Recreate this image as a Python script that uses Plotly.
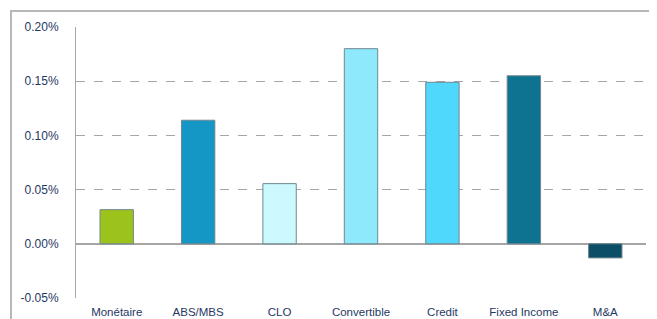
import plotly.graph_objects as go

categories = ["Monétaire", "ABS/MBS", "CLO", "Convertible", "Credit", "Fixed Income", "M&A"]
values = [0.0315, 0.114, 0.0555, 0.180, 0.149, 0.155, -0.013]  # percent
colors = ["#9BC31C", "#1497C4", "#CCF9FD", "#8EE9FC", "#4FD8FC", "#0E7391", "#0B4E66"]
tick_vals = [-0.05, 0.0, 0.05, 0.10, 0.15, 0.20]
tick_text = ["-0.05%", "0.00%", "0.05%", "0.10%", "0.15%", "0.20%"]

# page body has an 8px margin, so the figure is drawn at (8, 8)
W, H = 649, 311
L, R, T, B = 68, 11, 19, 21

fig = go.Figure()
fig.add_trace(go.Bar(
    x=categories,
    y=values,
    marker=dict(color=colors, line=dict(color="#6F8790", width=1)),
    width=0.41,
    xaxis="x", yaxis="y",
))
# outer frame drawn on a full-figure overlay subplot (pixel units)
fig.add_trace(go.Scatter(
    x=[3, 3, W + 10], y=[H + 10, 3, 3],
    mode="lines", line=dict(color="#B8B8B8", width=2),
    hoverinfo="skip", xaxis="x2", yaxis="y2",
))

fig.update_layout(
    width=W, height=H,
    margin=dict(l=0, r=0, t=0, b=0, pad=0, autoexpand=False),
    paper_bgcolor="white", plot_bgcolor="rgba(0,0,0,0)",
    showlegend=False,
    font=dict(family="Liberation Sans, Arial, sans-serif", color="#1F3864"),
    xaxis=dict(
        domain=[L / W, (W - R) / W], anchor="y", automargin=False,
        tickfont=dict(size=11.5, color="#1F3864"),
        showgrid=False, showline=False, zeroline=False,
        ticks="", ticklabelstandoff=5,
    ),
    yaxis=dict(
        domain=[B / H, (H - T) / H], anchor="x", automargin=False,
        range=[-0.05, 0.20],
        tickvals=tick_vals, ticktext=tick_text,
        tickfont=dict(size=12, color="#1F3864"),
        showgrid=True, gridcolor="#A6A6A6", griddash="dash", gridwidth=1,
        zeroline=True, zerolinecolor="#A6A6A6", zerolinewidth=1.5,
        showline=True, linecolor="#A6A6A6", linewidth=1,
        ticks="", ticklabelstandoff=14,
    ),
    xaxis2=dict(domain=[0, 1], anchor="y2", range=[0, W], visible=False,
                fixedrange=True, automargin=False),
    yaxis2=dict(domain=[0, 1], anchor="x2", range=[H, 0], visible=False,
                fixedrange=True, automargin=False),
)
fig.write_html("out.html")
